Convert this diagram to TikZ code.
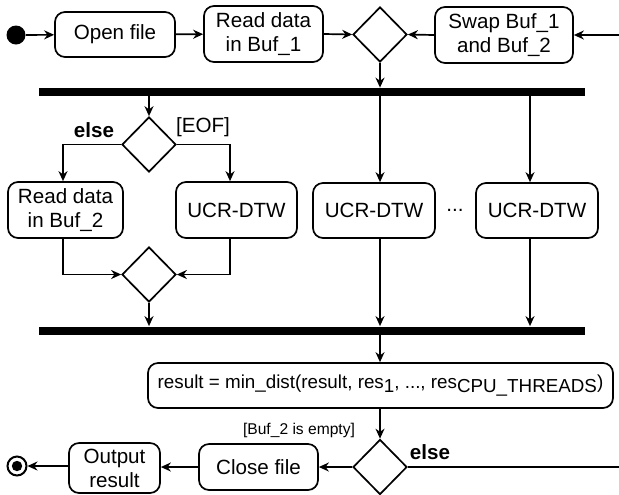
\documentclass[tikz,border=0pt]{standalone}
\usepackage{fontspec}
\setmainfont{Liberation Sans}
\usetikzlibrary{shapes.geometric,arrows.meta}

\begin{document}
\begin{tikzpicture}[x=0.5pt,y=-0.5pt,
  act/.style={draw, rounded corners=5pt, line width=0.85pt, align=center,
    font=\fontsize{10.3}{12}\selectfont, inner sep=0pt},
  dec/.style={draw, diamond, line width=0.85pt, minimum width=27pt,
    minimum height=27.5pt, inner sep=0pt},
  syncbar/.style={fill=black, inner sep=0pt, minimum width=273pt, minimum height=4pt},
  flow/.style={line width=0.85pt, -{Stealth[length=5pt,width=4.5pt]}},
  plain/.style={line width=0.85pt},
  guard/.style={font=\fontsize{10.3}{12}\selectfont, inner sep=0pt},
]
\useasboundingbox (0,0) rectangle (619,494);

% initial node and first actions
\node[circle, fill=black, minimum size=9.5pt, inner sep=0pt] (start) at (16,35) {};
\node[act, minimum width=60pt, minimum height=22.5pt] (open) at (115,34.5) {Open file};
\node[act, minimum width=59.5pt, minimum height=28pt] (read1) at (263.5,34) {Read data\\in Buf\_1};
\node[dec] (d1) at (380,34.5) {};
\node[act, minimum width=69pt, minimum height=28pt] (swap) at (504,35) {Swap Buf\_1\\and Buf\_2};
\coordinate (loopin) at (619,35);

% fork bar
\node[syncbar] (bar1) at (312,92) {};

% reader branch
\node[dec] (d2) at (149,144.5) {};
\node[act, minimum width=57.5pt, minimum height=28pt] (read2) at (65.5,210) {Read data\\in Buf\_2};
\node[act, minimum width=60.5pt, minimum height=28pt] (ucr1) at (236.5,210) {UCR-DTW};
\node[dec] (d3) at (149,274.5) {};

% worker threads
\node[act, minimum width=61pt, minimum height=27.5pt] (ucr2) at (374,210.5) {UCR-DTW};
\node[act, minimum width=61pt, minimum height=27.5pt] (ucr3) at (537,210.5) {UCR-DTW};
\node[guard] (dots) at (455,210) {...};

% join bar
\node[syncbar] (bar2) at (312,330.5) {};

% reduction and termination
\node[act, minimum width=232.5pt, minimum height=22.5pt, font=\fontsize{9.4}{11}\selectfont] (result) at (380.5,385.5)
  {result = min\_dist(result, res\raisebox{-1.6pt}{1}, ..., res\raisebox{-1.6pt}{CPU\_THREADS})};
\node[dec] (d4) at (380,467) {};
\coordinate (loopout) at (619,467);
\node[act, minimum width=59.5pt, minimum height=23pt] (close) at (258.5,467) {Close file};
\node[act, minimum width=45.5pt, minimum height=25pt] (output) at (114.5,468) {Output\\result};
\node[circle, draw, line width=1pt, minimum size=9.5pt, inner sep=0pt] (stop) at (17,466) {};
\node[circle, fill=black, minimum size=5.2pt, inner sep=0pt] (stopdot) at (stop.center) {};

% guard labels
\node[guard, font=\fontsize{10.3}{12}\selectfont\bfseries] (else1) at (94,130) {else};
\node[guard] (eof) at (203,127) {[EOF]};
\node[guard, font=\fontsize{7.8}{9}\selectfont] (empty) at (299,430) {[Buf\_2 is empty]};
\node[guard, font=\fontsize{10.3}{12}\selectfont\bfseries] (else2) at (430,452) {else};

% connectors: top row
\draw[flow] (start) -- (open);
\draw[flow] (open) -- (read1);
\draw[flow] (read1.east) -- (d1.west);
\draw[flow] (swap.west) -- (d1.east);
\draw[flow] (loopin) -- (swap.east);
\draw[flow] (d1.south) -- (d1.south |- bar1.north);

% connectors: fork
\draw[flow] (bar1.south -| d2.north) -- (d2.north);
\draw[flow] (d2.west) -| ([xshift=-1.25pt]read2.north);
\draw[flow] (d2.east) -| ([xshift=-3.25pt]ucr1.north);
\draw[flow] (bar1.south -| d1.south) -- (ucr2.north -| d1.south);
\draw[flow] ([xshift=-3.5pt]ucr3.north |- bar1.south) -- ([xshift=-3.5pt]ucr3.north);

% connectors: join
\draw[flow] ([xshift=-1.25pt]read2.south) |- (d3.west);
\draw[flow] ([xshift=-3.25pt]ucr1.south) |- (d3.east);
\draw[flow] (d3.south) -- (d3.south |- bar2.north);
\draw[flow] (ucr2.south -| d1.south) -- (bar2.north -| d1.south);
\draw[flow] ([xshift=-3.5pt]ucr3.south) -- ([xshift=-3.5pt]ucr3.south |- bar2.north);

% connectors: bottom row
\draw[flow] (bar2.south -| d1.south) -- (result.north -| d1.south);
\draw[flow] (result.south -| d4.north) -- (d4.north);
\draw[flow] (d4.west) -- (close.east);
\draw[flow] (close.west) -- (output.east |- close.west);
\draw[flow] (output.west |- stop.east) -- (stop.east);
\draw[plain] (d4.east) -- (loopout);
\end{tikzpicture}
\end{document}
